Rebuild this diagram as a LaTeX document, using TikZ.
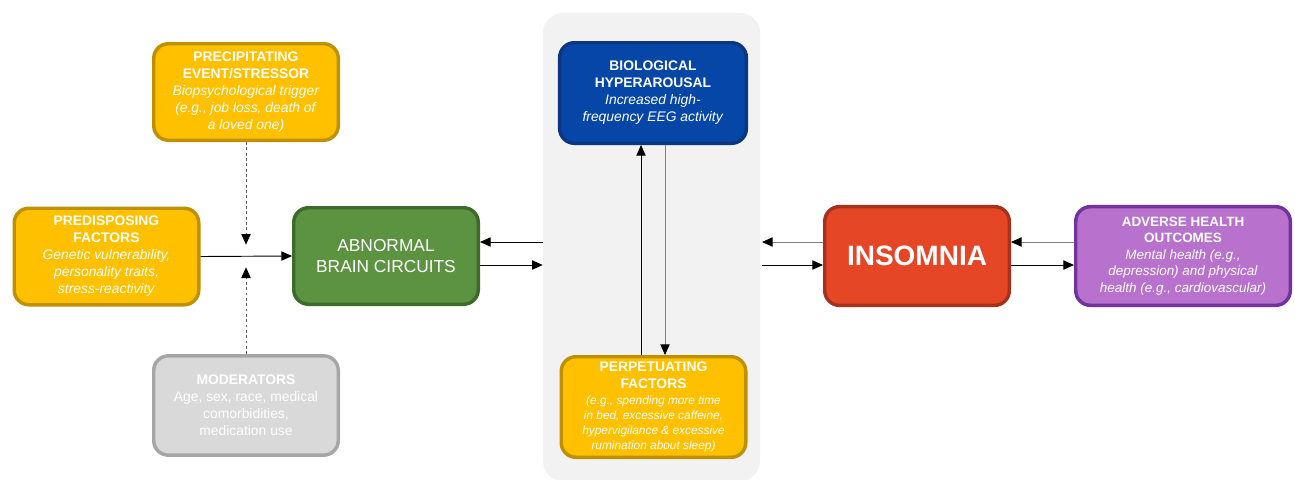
\documentclass[tikz,border=0pt]{standalone}
\usepackage{fontspec}
\setmainfont{Liberation Sans}
\usetikzlibrary{arrows.meta}

\definecolor{gold}{HTML}{FFC000}
\definecolor{golddark}{HTML}{BF9000}
\definecolor{leaf}{HTML}{5B9341}
\definecolor{leafdark}{HTML}{3E6A2B}
\definecolor{ash}{HTML}{D9D9D9}
\definecolor{ashdark}{HTML}{A6A6A6}
\definecolor{navy}{HTML}{0546A7}
\definecolor{navydark}{HTML}{0A3682}
\definecolor{brick}{HTML}{E54626}
\definecolor{brickdark}{HTML}{A8311B}
\definecolor{orchid}{HTML}{B872CE}
\definecolor{orchiddark}{HTML}{7232A2}
\definecolor{panelgray}{HTML}{F2F2F2}

\tikzset{
    box/.style 2 args={draw=#2, fill=#1, line width=2.6pt, rounded corners=11pt,
        text=white, align=center, inner sep=2pt,
        minimum width=138.4pt, minimum height=72.4pt,
        font=\fontsize{10.4}{12.75}\selectfont},
    link/.style={line width=0.7pt, -{Triangle[length=8pt, width=7pt]}},
    greylink/.style={link, draw=gray, -{Triangle[length=8pt, width=7pt, color=black]}},
    dashlink/.style={link, draw=black!65, dash pattern=on 2.2pt off 1.8pt,
        -{Triangle[length=8pt, width=7pt, color=black]}}
}

\newcommand{\hd}[1]{\textbf{#1}}
\newcommand{\ds}[1]{\textit{#1}}

\begin{document}
\begin{tikzpicture}[x=0.75pt, y=-0.75pt]
    \useasboundingbox (0,0) rectangle (1295,479);

    % grey panel behind the feedback loop
    \node[fill=panelgray, rounded corners=15pt, minimum width=162.75pt,
          minimum height=351pt, inner sep=0pt] (panel) at (651.5,247) {};

    % boxes
    \node[box={gold}{golddark}] (precip) at (246,92)
        {\hd{PRECIPITATING}\\\hd{EVENT/STRESSOR}\\\ds{Biopsychological trigger}\\\ds{(e.g., job loss, death of}\\\ds{a loved one)}};
    \node[box={gold}{golddark}] (predis) at (106.5,256.5)
        {\hd{PREDISPOSING}\\\hd{FACTORS}\\\ds{Genetic vulnerability,}\\\ds{personality traits,}\\\ds{stress-reactivity}};
    \node[box={ash}{ashdark}, minimum height=74.5pt] (moder) at (246,405.5)
        {\hd{MODERATORS}\\Age, sex, race, medical\\comorbidities,\\medication use};
    \node[box={leaf}{leafdark}, font=\fontsize{13}{16}\selectfont] (brain) at (386,256)
        {ABNORMAL\\BRAIN CIRCUITS};
    \node[box={navy}{navydark}, minimum width=140pt, minimum height=75.4pt] (bio) at (653,93)
        {\hd{BIOLOGICAL}\\\hd{HYPERAROUSAL}\\\ds{Increased high-}\\\ds{frequency EEG activity}};
    \node[box={gold}{golddark}, minimum height=75.4pt] (perp) at (653.5,407)
        {\hd{PERPETUATING}\\\hd{FACTORS}\\[-1pt]
         {\fontsize{8.9}{10.5}\selectfont\ds{(e.g., spending more time}}\\[-1.5pt]
         {\fontsize{8.9}{10.5}\selectfont\ds{in bed, excessive caffeine,}}\\[-1.5pt]
         {\fontsize{8.9}{10.5}\selectfont\ds{hypervigilance \& excessive}}\\[-1.5pt]
         {\fontsize{8.9}{10.5}\selectfont\ds{rumination about sleep)}}};
    \node[box={brick}{brickdark}, minimum height=74pt, font=\fontsize{21}{24}\selectfont\bfseries] (insom) at (917,256)
        {INSOMNIA};
    \node[box={orchid}{orchiddark}, minimum width=160.9pt, minimum height=74pt,
          font=\fontsize{10.1}{12.4}\selectfont] (adverse) at (1183,256)
        {\hd{ADVERSE HEALTH}\\\hd{OUTCOMES}\\\ds{Mental health (e.g.,}\\\ds{depression) and physical}\\\ds{health (e.g., cardiovascular)}};

    % where the factors meet
    \coordinate (meet) at (246,256);

    % arrows
    \draw[link] (predis.east) -- (brain.east -| brain.west);
    \draw[dashlink] (precip.south) -- ([yshift=8.5pt]meet);
    \draw[dashlink] (moder.north) -- ([yshift=-8.5pt]meet);

    \draw[link] (panel.west |- 0,242) -- (brain.east |- 0,242);
    \draw[link] (brain.east |- 0,265) -- (panel.west |- 0,265);

    \draw[link] (perp.north -| 641,0) -- (bio.south -| 641,0);
    \draw[greylink] (bio.south -| 665,0) -- (perp.north -| 665,0);

    \draw[greylink] (insom.west |- 0,242) -- (762,242);
    \draw[link] (762,265) -- (insom.west |- 0,265);

    \draw[greylink] (adverse.west |- 0,242) -- (insom.east |- 0,242);
    \draw[link] (insom.east |- 0,265) -- (adverse.west |- 0,265);
\end{tikzpicture}
\end{document}
